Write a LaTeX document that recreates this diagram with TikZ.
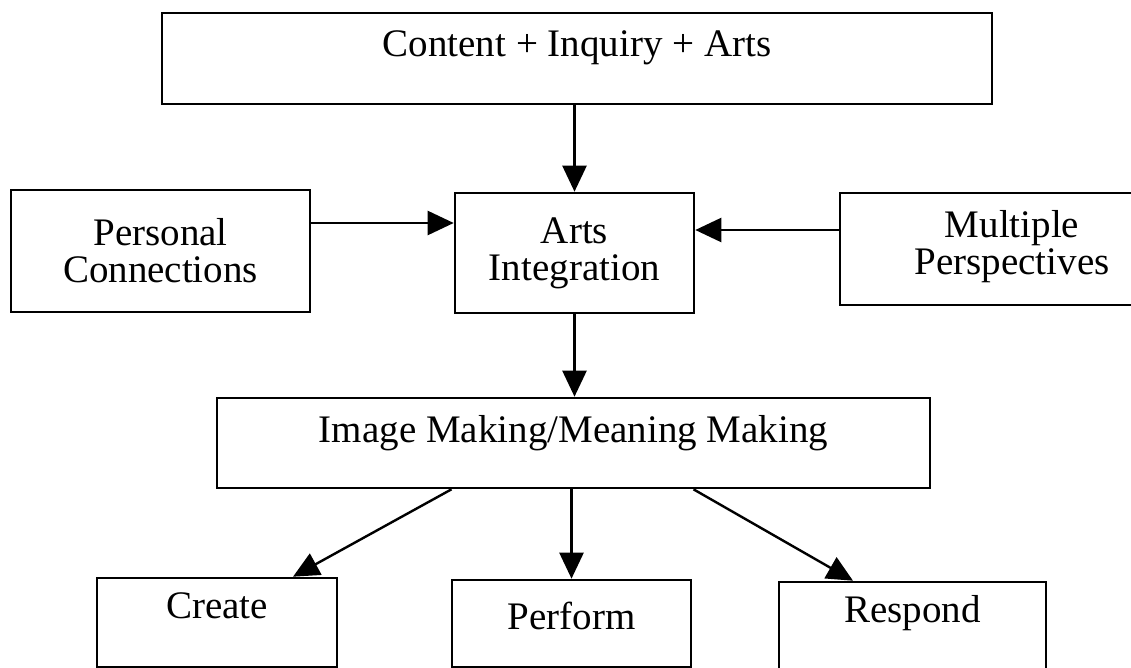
\documentclass[tikz,border=0pt]{standalone}
\usepackage{fontspec}
\setmainfont{Liberation Serif}
\usepackage{tikz}
\usetikzlibrary{arrows.meta}

\begin{document}
\begin{tikzpicture}[x=1pt, y=-1pt,
    box/.style={draw, line width=2.6pt, inner sep=0pt, align=center,
        font=\fontsize{39}{37}\selectfont},
    arr/.style={line width=2.4pt, -{Triangle[length=26pt,width=24pt]}}]
    \useasboundingbox (0,0) rectangle (1131,668);
    \clip (0,0) rectangle (1131,668);
    % top row
    \node[box, anchor=base, minimum width=830pt, text height=44pt, text depth=47pt] (top) at (577,57) {Content + Inquiry + Arts};
    % middle row
    \node[box, minimum width=299pt, minimum height=122pt] (pers) at (160.5,251) {Personal\\Connections};
    \node[box, minimum width=239pt, minimum height=120pt] (arts) at (574.5,253) {Arts\\Integration};
    \node[box, minimum width=344pt, minimum height=112pt, text depth=14pt] (mult) at (1012,249) {Multiple\\Perspectives};
    \node[box, anchor=base, minimum width=713pt, text height=44pt, text depth=46pt] (img) at (573.5,442) {Image Making/Meaning Making};
    % bottom row
    \node[box, anchor=base, minimum width=240pt, text height=40pt, text depth=49pt] (create) at (217,618) {Create};
    \node[box, anchor=base, minimum width=239pt, text height=49pt, text depth=38pt] (perform) at (571.5,629) {Perform};
    \node[box, anchor=base, minimum width=267pt, text height=40pt, text depth=48pt] (respond) at (912.5,622) {Respond};
    % arrows
    \draw[arr] (arts.north |- top.south) -- (arts.north);
    \draw[arr] ([yshift=28pt]pers.east) -- ([yshift=28pt]pers.east -| arts.west);
    \draw[arr] ([yshift=19pt]mult.west) -- ([yshift=19pt]mult.west -| arts.east);
    \draw[arr] (arts.south) -- (arts.south |- img.north);
    \draw[arr] ([xshift=-122pt]img.south) -- ([xshift=76pt]create.north);
    \draw[arr] (perform.north |- img.south) -- (perform.north);
    \draw[arr] ([xshift=120pt]img.south) -- ([xshift=-59.5pt]respond.north);
\end{tikzpicture}
\end{document}
